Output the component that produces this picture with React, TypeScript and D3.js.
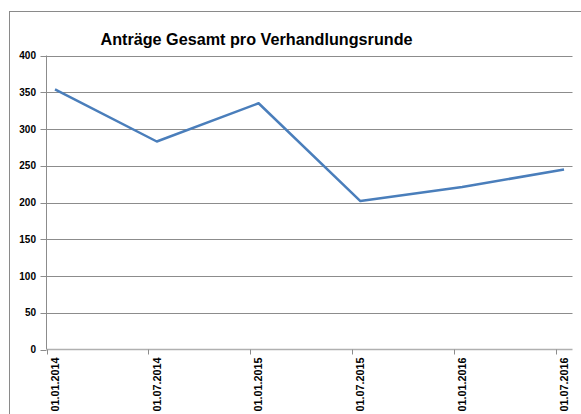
import React from "react";
import * as d3 from "d3";

const title = "Anträge Gesamt pro Verhandlungsrunde";
const dateLabels = ["01.01.2014", "01.07.2014", "01.01.2015", "01.07.2015", "01.01.2016", "01.07.2016"];
const monthIndex = [0, 6, 12, 18, 24, 30];
const values = [354, 283, 335, 202, 221, 245];
const yTicks = [0, 50, 100, 150, 200, 250, 300, 350, 400];
const monthCount = 31;

const W = 581;
const H = 414;
const left = 46.5;
const right = 572.5;
const top = 55.5;
const bottom = 349.5;

export default function App() {
  const months = d3.range(monthCount);
  const x = d3.scaleBand<number>().domain(months).range([left, right]).padding(0);
  const y = d3.scaleLinear().domain([0, 400]).range([bottom, top]);
  const pts = values.map((v, i) => [x(monthIndex[i])! + x.bandwidth() / 2, y(v)] as [number, number]);
  const line = d3.line();
  const font = "'Liberation Sans', Arial, sans-serif";
  const grid = "#8c8c8c";
  return (
    <svg width={W} height={H} style={{ position: "absolute", left: 0, top: 0 }}>
      <rect x={0} y={0} width={W} height={H} fill="#fff" />
      <rect x={9.5} y={11.5} width={W} height={H} fill="none" stroke="#8a8a8a" strokeWidth={1} />
      <text x={256.5} y={44.5} textAnchor="middle" fontFamily={font} fontWeight="bold" fontSize={16.2} fill="#000">
        {title}
      </text>
      {yTicks.map((t) => (
        <g key={t}>
          {t > 0 && <line x1={left} x2={right} y1={Math.round(y(t)) + 0.5} y2={Math.round(y(t)) + 0.5} stroke={grid} />}
          <line x1={left - 6} x2={left} y1={Math.round(y(t)) + 0.5} y2={Math.round(y(t)) + 0.5} stroke={grid} />
          <text x={36} y={y(t) + 3.5} textAnchor="end" fontFamily={font} fontWeight="bold" fontSize={10} fill="#000">
            {t}
          </text>
        </g>
      ))}
      <line x1={left} x2={left} y1={top} y2={bottom} stroke={grid} />
      <line x1={left} x2={right} y1={bottom} y2={bottom} stroke="#b0b0b0" strokeWidth={1.5} />
      {monthIndex.map((m, i) => {
        const tx = Math.round(x(m)!) + 0.5;
        const cx = x(m)! + x.bandwidth() / 2;
        return (
          <g key={m}>
            <line x1={tx} x2={tx} y1={bottom} y2={bottom + 5} stroke={grid} />
            <text
              transform={`translate(${cx + 3.8},${bottom + 8}) rotate(-90)`}
              textAnchor="end"
              fontFamily={font}
              fontWeight="bold"
              fontSize={10.8}
              fill="#000"
            >
              {dateLabels[i]}
            </text>
          </g>
        );
      })}
      <path d={line(pts) ?? ""} fill="none" stroke="#4a7ebb" strokeWidth={2.5} strokeLinejoin="round" />
    </svg>
  );
}
